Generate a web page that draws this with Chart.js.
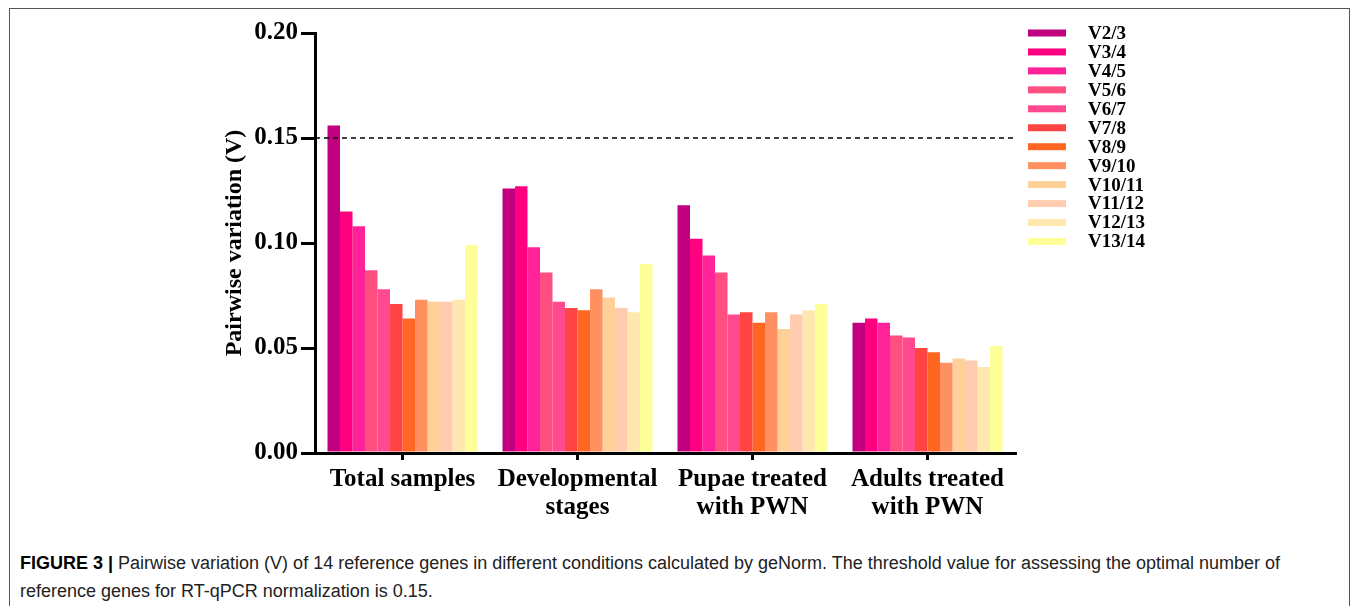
<!DOCTYPE html>
<html>
<head>
<meta charset="utf-8">
<script src="https://cdn.jsdelivr.net/npm/chart.js@4"></script>
<style>
  body { margin: 0; background: #fff; }
  #frame {
    position: absolute; left: 9px; top: 8px; width: 1341px; height: 640px;
    border: 1.5px solid #555; box-sizing: border-box;
  }
  #wrap { position: absolute; left: 0; top: 0; width: 1355px; height: 530px; }
  #caption {
    position: absolute; left: 20px; top: 549px; width: 1300px;
    font-family: "Liberation Sans", Arial, sans-serif; font-size: 18px;
    line-height: 28px; color: #222;
  }
  #caption b { color: #000; }
</style>
</head>
<body>
<div id="frame"></div>
<div id="wrap"><canvas id="chart"></canvas></div>
<div id="caption"><b>FIGURE 3 |</b> Pairwise variation (V) of 14 reference genes in different conditions calculated by geNorm. The threshold value for assessing the optimal number of reference genes for RT-qPCR normalization is 0.15.</div>

<script>
// ----- data -----
const groups = [
  "Total samples",
  ["Developmental", "stages"],
  ["Pupae treated", "with PWN"],
  ["Adults treated", "with PWN"]
];
const pairLabels = ["V2/3", "V3/4", "V4/5", "V5/6", "V6/7", "V7/8", "V8/9", "V9/10", "V10/11", "V11/12", "V12/13", "V13/14"];
const pairColors = ["#C0007F", "#FF0080", "#FF2299", "#FF4F80", "#FF4A90", "#FF4444", "#FF6622", "#FF9060", "#FFD098", "#FFCCB0", "#FFE8B0", "#FFFF99"];

// one row per pair, values for the 4 groups
const V2_3   = [0.156, 0.126, 0.118, 0.062];
const V3_4   = [0.115, 0.127, 0.102, 0.064];
const V4_5   = [0.108, 0.098, 0.094, 0.062];
const V5_6   = [0.087, 0.086, 0.086, 0.056];
const V6_7   = [0.078, 0.072, 0.066, 0.055];
const V7_8   = [0.071, 0.069, 0.067, 0.050];
const V8_9   = [0.064, 0.068, 0.062, 0.048];
const V9_10  = [0.073, 0.078, 0.067, 0.043];
const V10_11 = [0.072, 0.074, 0.059, 0.045];
const V11_12 = [0.072, 0.069, 0.066, 0.044];
const V12_13 = [0.073, 0.067, 0.068, 0.041];
const V13_14 = [0.099, 0.090, 0.071, 0.051];
const seriesValues = [V2_3, V3_4, V4_5, V5_6, V6_7, V7_8, V8_9, V9_10, V10_11, V11_12, V12_13, V13_14];

const yTicks = [0, 0.05, 0.10, 0.15, 0.20];
const threshold = 0.15;

const serif = '"Liberation Serif", "Times New Roman", serif';

// ----- dashed threshold line -----
const thresholdLine = {
  id: "thresholdLine",
  afterDatasetsDraw(chart) {
    const { ctx, chartArea, scales } = chart;
    const y = scales.y.getPixelForValue(threshold);
    ctx.save();
    ctx.strokeStyle = "#000";
    ctx.lineWidth = 1.5;
    ctx.setLineDash([5, 4]);
    ctx.beginPath();
    ctx.moveTo(chartArea.left, y);
    ctx.lineTo(chartArea.right, y);
    ctx.stroke();
    ctx.restore();
  }
};

// ----- legend in a column at the right -----
const sideLegend = {
  id: "sideLegend",
  afterDraw(chart) {
    const { ctx } = chart;
    ctx.save();
    ctx.font = "bold 19px " + serif;
    ctx.textBaseline = "middle";
    chart.data.datasets.forEach((ds, i) => {
      const y = 33 + i * 18.95;
      ctx.fillStyle = ds.backgroundColor;
      ctx.fillRect(1028, y - 3.5, 38, 7);
      ctx.fillStyle = "#000";
      ctx.fillText(ds.label, 1088, y + 1);
    });
    ctx.restore();
  }
};

const datasets = pairLabels.map((lbl, i) => ({
  label: lbl,
  data: seriesValues[i],
  backgroundColor: pairColors[i],
  borderWidth: 0,
  barPercentage: 1.0,
  categoryPercentage: 150 / 175
}));

new Chart(document.getElementById("chart"), {
  type: "bar",
  data: { labels: groups, datasets },
  options: {
    responsive: true,
    maintainAspectRatio: false,
    animation: false,
    layout: { padding: { left: 220, right: 340, top: 33, bottom: 0 } },
    plugins: { legend: { display: false }, tooltip: { enabled: false } },
    scales: {
      x: {
        afterFit(scale) { scale.height = 77; },
        border: { color: "#000", width: 3 },
        grid: { drawOnChartArea: false, offset: false, color: "#000", lineWidth: 3, tickLength: 7 },
        ticks: { color: "#000", font: { family: serif, size: 25, weight: "bold", lineHeight: 1.1 }, padding: 6, maxRotation: 0 }
      },
      y: {
        min: 0,
        max: 0.2,
        afterFit(scale) { scale.width = 95; },
        afterBuildTicks(scale) { scale.ticks = yTicks.map(v => ({ value: v })); },
        border: { color: "#000", width: 3 },
        grid: { drawOnChartArea: false, color: "#000", lineWidth: 3, tickLength: 14 },
        ticks: {
          color: "#000",
          font: { family: serif, size: 25, weight: "bold" },
          padding: 3,
          callback: v => v.toFixed(2)
        },
        title: {
          display: true,
          text: "Pairwise variation (V)",
          color: "#000",
          font: { family: serif, size: 24, weight: "bold" },
          padding: { top: 0, bottom: 0 }
        }
      }
    }
  },
  plugins: [thresholdLine, sideLegend]
});
</script>
</body>
</html>
